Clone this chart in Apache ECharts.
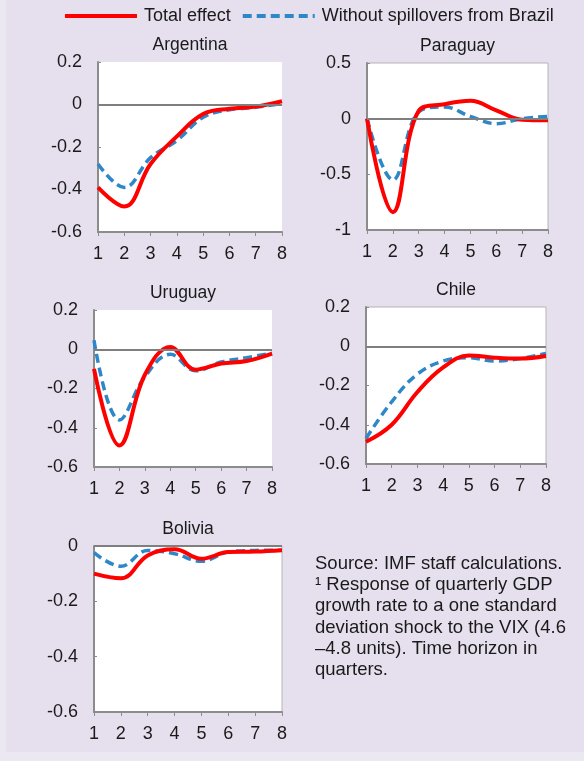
<!DOCTYPE html>
<html>
<head>
<meta charset="utf-8">
<script src="https://cdn.jsdelivr.net/npm/echarts@6/dist/echarts.min.js"></script>
<style>
  html, body { margin: 0; padding: 0; background: #ece8f1; }
  #main { width: 584px; height: 761px; }
</style>
</head>
<body>
<div id="main"></div>
<script>
// response to a VIX shock, by quarter
var quarters = [1, 2, 3, 4, 5, 6, 7, 8];
var xTicks = ["1", "2", "3", "4", "5", "6", "7", "8"];

var argentinaTotal = [-0.39, -0.48, -0.28, -0.15, -0.045, -0.02, -0.01, 0.015];
var argentinaNoBrazil = [-0.28, -0.39, -0.25, -0.17, -0.06, -0.025, -0.013, 0.005];

var paraguayTotal = [0, -0.84, 0.07, 0.13, 0.16, 0.075, -0.01, -0.015];
var paraguayNoBrazil = [0, -0.55, 0.06, 0.105, 0.02, -0.045, 0, 0.02];

var uruguayTotal = [-0.1, -0.49, -0.13, 0.012, -0.104, -0.073, -0.06, -0.022];
var uruguayNoBrazil = [0.046, -0.36, -0.14, -0.026, -0.11, -0.065, -0.043, -0.02];

var chileTotal = [-0.487, -0.4, -0.233, -0.108, -0.047, -0.058, -0.063, -0.05];
var chileNoBrazil = [-0.47, -0.283, -0.142, -0.075, -0.058, -0.075, -0.063, -0.037];

var boliviaTotal = [-0.1, -0.117, -0.034, -0.012, -0.046, -0.022, -0.02, -0.015];
var boliviaNoBrazil = [-0.024, -0.073, -0.016, -0.028, -0.055, -0.022, -0.016, -0.015];

var seriesNames = ["Total effect", "Without spillovers from Brazil"];
var sourceLines = [
  "Source: IMF staff calculations.",
  "\u00b9 Response of quarterly GDP",
  "growth rate to a one standard",
  "deviation shock to the VIX (4.6",
  "\u20134.8 units). Time horizon in",
  "quarters."
];

(function () {
  var myChart = echarts.init(document.getElementById("main"));
  var font = "'Liberation Sans', Arial, sans-serif";

  // layout of the five small panels
  var panels = [
    { name: "Argentina", total: argentinaTotal, noBrazil: argentinaNoBrazil,
      min: -0.6, max: 0.2, step: 0.2, box: [98, 62, 184, 170], border: false },
    { name: "Paraguay", total: paraguayTotal, noBrazil: paraguayNoBrazil,
      min: -1, max: 0.5, step: 0.5, box: [367, 63, 181, 167], border: true },
    { name: "Uruguay", total: uruguayTotal, noBrazil: uruguayNoBrazil,
      min: -0.6, max: 0.2, step: 0.2, box: [94, 310, 178, 157], border: false },
    { name: "Chile", total: chileTotal, noBrazil: chileNoBrazil,
      min: -0.6, max: 0.2, step: 0.2, box: [366, 307, 180, 157], border: true },
    { name: "Bolivia", total: boliviaTotal, noBrazil: boliviaNoBrazil,
      min: -0.6, max: 0, step: 0.2, box: [94, 546, 188, 166], border: true }
  ];

  function pairs(values) {
    return quarters.map(function (q, i) { return [q, values[i]]; });
  }

  var grid = [], xAxis = [], yAxis = [], series = [], title = [];

  panels.forEach(function (p, i) {
    var b = p.box;
    grid.push({
      left: b[0], top: b[1], width: b[2], height: b[3],
      show: true,
      backgroundColor: "#ffffff",
      borderColor: p.border ? "#b4b4b4" : "transparent",
      borderWidth: 1
    });
    title.push({
      text: p.name,
      left: b[0] + b[2] / 2,
      top: b[1] - 26,
      textAlign: "center",
      padding: 0,
      textStyle: { fontFamily: font, fontSize: 17.5, fontWeight: "normal", color: "#1a1a1a" }
    });
    xAxis.push({
      type: "value",
      gridIndex: i,
      min: 1, max: 8, interval: 1,
      axisLine: { onZero: false, lineStyle: { color: "#8c8c8c", width: 2 } },
      axisTick: { show: true, length: 4, lineStyle: { color: "#8c8c8c", width: 1 } },
      axisLabel: {
        margin: 13, fontFamily: font, fontSize: 18, color: "#1a1a1a",
        formatter: function (v) { return xTicks[v - 1]; }
      },
      splitLine: { show: false }
    });
    yAxis.push({
      type: "value",
      gridIndex: i,
      min: p.min, max: p.max, interval: p.step,
      axisLine: { show: true, lineStyle: { color: "#8c8c8c", width: 2 } },
      axisTick: { show: true, inside: true, length: 3, lineStyle: { color: "#8c8c8c" } },
      axisLabel: {
        margin: 16, fontFamily: font, fontSize: 18, color: "#1a1a1a",
        formatter: function (v) { return String(Math.round(v * 10) / 10); }
      },
      splitLine: { show: false }
    });
    series.push({
      name: seriesNames[1],
      type: "line",
      xAxisIndex: i, yAxisIndex: i,
      data: pairs(p.noBrazil),
      smooth: 0.4,
      symbol: "none",
      lineStyle: { color: "#2e87c8", width: 3.5, type: [9, 5] },
      itemStyle: { color: "#2e87c8" },
      markLine: {
        silent: true,
        symbol: "none",
        label: { show: false },
        lineStyle: { color: "#7f7f7f", width: 2, type: "solid" },
        data: [{ yAxis: 0 }]
      },
      z: 2
    });
    series.push({
      name: seriesNames[0],
      type: "line",
      xAxisIndex: i, yAxisIndex: i,
      data: pairs(p.total),
      smooth: 0.4,
      symbol: "none",
      lineStyle: { color: "#ff0000", width: 4 },
      itemStyle: { color: "#ff0000" },
      z: 3
    });
  });

  option = {
    backgroundColor: "#ece8f1",
    animation: false,
    title: title,
    legend: {
      data: seriesNames,
      left: 63,
      top: 7,
      padding: 0,
      itemWidth: 72,
      itemHeight: 18,
      itemGap: 10,
      itemStyle: { opacity: 0 },
      lineStyle: { width: 4 },
      textStyle: { fontFamily: font, fontSize: 18, color: "#1a1a1a", padding: [0, 0, 0, 2] }
    },
    grid: grid,
    xAxis: xAxis,
    yAxis: yAxis,
    series: series,
    graphic: [
      {
        type: "rect",
        shape: { x: 6, y: 0, width: 578, height: 752 },
        style: { fill: "#e6e0ee" },
        z: -10,
        silent: true
      },
      {
        type: "text",
        left: 315,
        top: 553,
        style: {
          text: sourceLines.join("\n"),
          font: "18.5px " + font,
          lineHeight: 21.3,
          fill: "#1a1a1a"
        }
      }
    ]
  };
  myChart.setOption(option);
  window.addEventListener("resize", function () {
    myChart.resize();
  });
})();
</script>
</body>
</html>
